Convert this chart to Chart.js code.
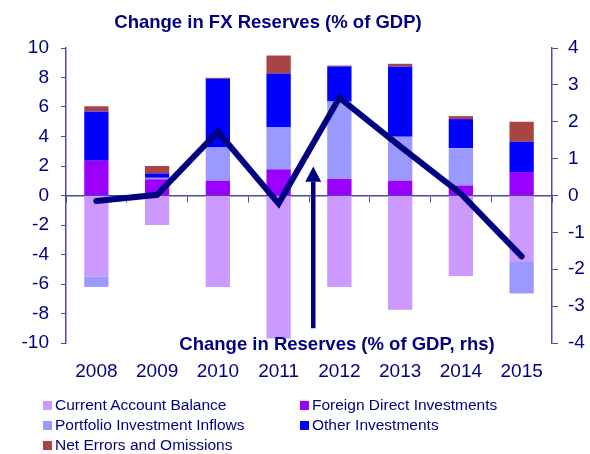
<!DOCTYPE html>
<html>
<head>
<meta charset="utf-8">
<script src="https://cdn.jsdelivr.net/npm/chart.js@4"></script>
<style>
  html, body { margin: 0; padding: 0; background: #fff; overflow: hidden; }
  #wrap { position: relative; width: 590px; height: 454px; }
  #legend { position: absolute; left: 0; top: 0; width: 590px; height: 454px; pointer-events: none;
    font-family: "Liberation Sans", Arial, sans-serif; font-size: 15.5px; color: #000080; }
  .item { position: absolute; white-space: nowrap; line-height: 18px; }
  .item i { display: inline-block; width: 9px; height: 9px; margin-right: 3px; vertical-align: 0px; }
</style>
</head>
<body>
<div id="wrap">
  <canvas id="chart" width="590" height="454"></canvas>
  <div id="legend"></div>
</div>
<script>
const years = ['2008', '2009', '2010', '2011', '2012', '2013', '2014', '2015'];

// stacked components, % of GDP (left axis)
const currentAccount = [-5.5, -2.0, -6.2, -9.7, -6.2, -7.75, -5.45, -4.5];
const fdi = [2.35, 1.1, 1.0, 1.77, 1.13, 1.0, 0.68, 1.59];
const portfolio = [-0.7, 0.1, 2.26, 2.87, 5.24, 2.98, 2.53, -2.14];
const otherInv = [3.35, 0.3, 4.65, 3.63, 2.38, 4.77, 1.97, 2.05];
const netErrors = [0.35, 0.5, 0.07, 1.22, 0.06, 0.18, 0.2, 1.36];

// change in reserves, % of GDP (right axis)
const reserves = [-0.15, 0.02, 1.73, -0.22, 2.65, 1.33, 0.05, -1.65];

const leftTicks = [-10, 10, 2];
const rightTicks = [-4, 4, 1];

const navy = '#000080';
const axisCol = '#4b4ba5';
const font = '"Liberation Sans", Arial, sans-serif';

const series = [
  { label: 'Current Account Balance', data: currentAccount, color: '#cc99ff' },
  { label: 'Foreign Direct Investments', data: fdi, color: '#9900ff' },
  { label: 'Portfolio Investment Inflows', data: portfolio, color: '#9999ff' },
  { label: 'Other Investments', data: otherInv, color: '#0000ff' },
  { label: 'Net Errors and Omissions', data: netErrors, color: '#a84444' }
];

// title, annotation text and the arrow pointing at the line
const overlay = {
  id: 'overlay',
  afterDatasetsDraw(chart) {
    const { ctx, chartArea, scales } = chart;
    ctx.save();
    ctx.fillStyle = navy;
    ctx.textAlign = 'center';
    ctx.textBaseline = 'middle';
    ctx.font = 'bold 18.5px ' + font;
    ctx.fillText('Change in FX Reserves (% of GDP)', 268, 23);
    ctx.fillText('Change in Reserves (% of GDP, rhs)', 337, chartArea.bottom + 2);

    const x3 = scales.x.getPixelForValue(3), x4 = scales.x.getPixelForValue(4);
    const ax = x3 + 0.57 * (x4 - x3);
    const yTip = scales.y.getPixelForValue(1.97);
    const yBase = scales.y.getPixelForValue(0.93);
    const yEnd = scales.y.getPixelForValue(-9.0);
    ctx.strokeStyle = navy;
    ctx.lineWidth = 4.5;
    ctx.beginPath();
    ctx.moveTo(ax, yEnd);
    ctx.lineTo(ax, yBase);
    ctx.stroke();
    ctx.beginPath();
    ctx.moveTo(ax, yTip);
    ctx.lineTo(ax - 8, yBase);
    ctx.lineTo(ax + 8, yBase);
    ctx.closePath();
    ctx.fill();
    ctx.restore();
  }
};

const datasets = [{
  type: 'line',
  label: 'Change in Reserves (% of GDP, rhs)',
  data: reserves,
  yAxisID: 'y1',
  borderColor: navy,
  borderWidth: 6,
  borderCapStyle: 'round',
  borderJoinStyle: 'miter',
  pointRadius: 0,
  tension: 0,
  order: 0
}].concat(series.map(s => ({
  type: 'bar',
  label: s.label,
  data: s.data,
  backgroundColor: s.color,
  borderWidth: 0,
  yAxisID: 'y',
  categoryPercentage: 1,
  barPercentage: 0.4,
  order: 1
})));

new Chart(document.getElementById('chart'), {
  type: 'bar',
  data: { labels: years, datasets },
  options: {
    responsive: false,
    animation: false,
    layout: { padding: { top: 48, left: 0, right: 0, bottom: 0 } },
    plugins: { legend: { display: false }, tooltip: { enabled: false } },
    scales: {
      x: {
        type: 'category',
        stacked: true,
        offset: true,
        grid: { display: false, drawTicks: false },
        border: { display: false },
        ticks: { color: navy, font: { family: font, size: 19 }, padding: 17, maxRotation: 0 },
        afterFit: s => { s.height = 111; }
      },
      x0: {
        type: 'category',
        position: { y: 0 },
        offset: true,
        grid: { offset: true, drawOnChartArea: false, drawTicks: true, tickLength: 6, color: axisCol },
        border: { display: true, color: axisCol, width: 1.5 },
        ticks: { display: false }
      },
      y: {
        position: 'left',
        stacked: true,
        min: leftTicks[0],
        max: leftTicks[1],
        ticks: { stepSize: leftTicks[2], color: navy, font: { family: font, size: 19 }, padding: 12 },
        grid: { drawOnChartArea: false, tickLength: 5, color: axisCol },
        border: { color: axisCol, width: 1.5 },
        afterFit: s => { s.width = 66; }
      },
      y1: {
        position: 'right',
        min: rightTicks[0],
        max: rightTicks[1],
        ticks: { stepSize: rightTicks[2], color: navy, font: { family: font, size: 19 }, padding: 10 },
        grid: { drawOnChartArea: false, tickLength: 6, color: axisCol },
        border: { color: axisCol, width: 1.5 },
        afterFit: s => { s.width = 38; }
      }
    }
  },
  plugins: [overlay]
});

// legend in two columns under the chart
const legendPos = [[43, 396], [300, 396], [43, 416], [300, 416], [43, 436]];
const legend = document.getElementById('legend');
series.forEach((s, i) => {
  const el = document.createElement('div');
  el.className = 'item';
  el.style.left = legendPos[i][0] + 'px';
  el.style.top = legendPos[i][1] + 'px';
  el.innerHTML = '<i style="background:' + s.color + '"></i>' + s.label;
  legend.appendChild(el);
});
</script>
</body>
</html>
